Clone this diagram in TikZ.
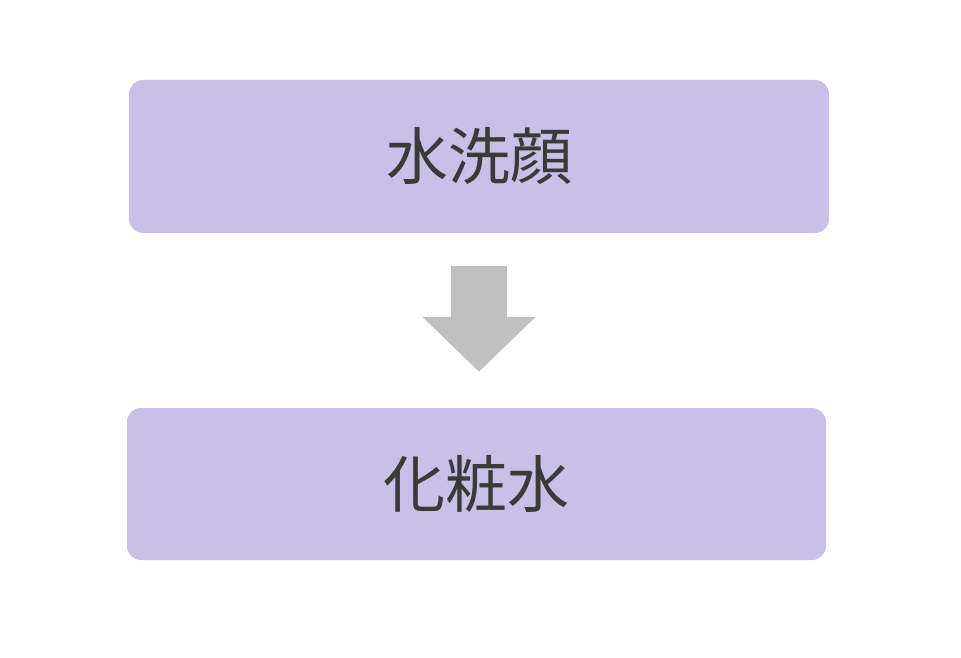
\documentclass[tikz,border=0pt]{standalone}
\usepackage{fontspec}
\newfontfamily\jpfont{Noto Sans CJK JP}
\usetikzlibrary{arrows.meta}
\definecolor{boxfill}{HTML}{C8C0E6}
\definecolor{arrowgray}{HTML}{C0C0C0}
\definecolor{textgray}{HTML}{3A3A3A}
\tikzset{
  stepbox/.style={fill=boxfill, rounded corners=14pt, inner sep=0pt,
    text=textgray, font=\jpfont\fontsize{62}{62}\selectfont},
  blockarrow/.style={draw=arrowgray, line width=56pt,
    -{Triangle[width=110pt,length=55pt]}}
}
\begin{document}
\begin{tikzpicture}[x=1pt,y=-1pt]
  \useasboundingbox (0,0) rectangle (961,658);
  \node[stepbox, minimum width=700pt, minimum height=153pt] (wash) at (479,156.5) {水洗顔};
  \node[stepbox, minimum width=699pt, minimum height=152pt] (lotion) at (476.5,484) {化粧水};
  \draw[blockarrow, shorten <=33pt, shorten >=36pt] (wash.south) -- (wash.south |- lotion.north);
\end{tikzpicture}
\end{document}
